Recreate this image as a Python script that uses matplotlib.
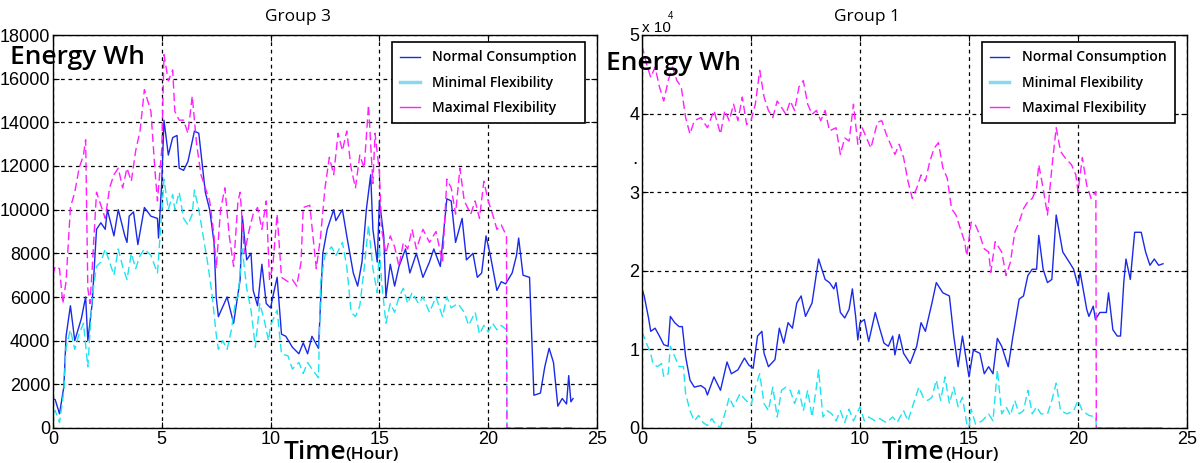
import matplotlib.pyplot as plt
from matplotlib.lines import Line2D

# (hour, Wh) pairs
g3_normal = [
    (0, 1340), (0.1, 1300), (0.3, 650), (0.5, 1900), (0.6, 4200), (0.8, 5600), (1.0, 4000),
    (1.3, 5000), (1.5, 6000), (1.6, 4000), (1.8, 5700), (2.0, 9100), (2.2, 9400), (2.4, 9100),
    (2.5, 10000), (2.8, 8800), (3.0, 10000), (3.3, 8800), (3.4, 8500), (3.5, 9700), (3.7, 9900),
    (3.9, 8400), (4.2, 10100), (4.5, 9700), (4.8, 9600), (4.85, 8700), (5.0, 11300), (5.1, 14100),
    (5.3, 12500), (5.5, 13300), (5.7, 13400), (5.8, 11900), (6.0, 11800), (6.2, 12200),
    (6.5, 13600), (6.7, 13500), (7.0, 10800), (7.2, 10000), (7.4, 8500), (7.5, 6000), (7.6, 5100),
    (8.0, 6000), (8.3, 4800), (8.6, 6800), (8.7, 9700), (8.9, 7700), (9.1, 8000), (9.2, 6300),
    (9.4, 5600), (9.6, 7500), (9.8, 5700), (10.0, 5500), (10.1, 6000), (10.3, 6900), (10.5, 4300),
    (10.7, 4200), (11.0, 3700), (11.3, 3400), (11.5, 3900), (11.7, 3400), (11.9, 4200),
    (12.2, 3650), (12.4, 8000), (12.6, 9100), (12.9, 10000), (13.0, 9500), (13.3, 10000),
    (13.5, 8800), (13.8, 7100), (14.0, 6500), (14.2, 7600), (14.4, 10000), (14.6, 11600),
    (14.7, 9100), (14.9, 7600), (15.0, 10400), (15.2, 8800), (15.3, 6000), (15.5, 7500),
    (15.7, 6500), (15.9, 7400), (16.2, 8200), (16.4, 7100), (16.7, 8000), (17.0, 6900),
    (17.3, 7600), (17.5, 8200), (17.8, 7400), (18.1, 10500), (18.3, 10400), (18.5, 8500),
    (18.8, 9600), (19.0, 7700), (19.3, 8000), (19.5, 6900), (19.7, 7100), (19.9, 8800),
    (20.1, 7900), (20.4, 6300), (20.6, 6700), (20.8, 6600), (21.1, 7100), (21.3, 7900),
    (21.4, 8700), (21.6, 7000), (21.9, 6900), (22.1, 1500), (22.4, 1600), (22.6, 2800),
    (22.8, 3650), (23.0, 3000), (23.2, 1000), (23.4, 1350), (23.6, 1100), (23.7, 2400),
    (23.8, 1200), (23.9, 1350),
]

g3_minimal = [
    (0, 700), (0.1, 800), (0.3, 250), (0.5, 1700), (0.6, 3700), (0.8, 4500), (1.0, 3600),
    (1.2, 4300), (1.4, 4800), (1.6, 2800), (1.8, 6000), (2.0, 7400), (2.2, 7600), (2.4, 8200),
    (2.6, 7600), (2.8, 7000), (3.0, 8200), (3.2, 7400), (3.4, 6800), (3.6, 8000), (3.8, 7300),
    (4.0, 7900), (4.2, 8200), (4.5, 7900), (4.8, 7100), (4.9, 8500), (5.1, 11400), (5.3, 10000),
    (5.5, 10700), (5.6, 10000), (5.8, 10800), (6.0, 9600), (6.2, 9300), (6.4, 9800),
    (6.5, 10900), (6.7, 10000), (6.9, 8800), (7.1, 7600), (7.3, 6200), (7.5, 4300), (7.6, 3600),
    (7.8, 4000), (8.0, 3600), (8.2, 4500), (8.4, 5900), (8.5, 6000), (8.7, 8200), (8.9, 6400),
    (9.1, 5400), (9.3, 3700), (9.5, 5700), (9.7, 5000), (9.9, 4000), (10.0, 4700), (10.3, 5400),
    (10.5, 3400), (10.8, 3300), (11.0, 2700), (11.3, 3000), (11.5, 2500), (11.7, 3000),
    (11.9, 2700), (12.2, 2300), (12.3, 6700), (12.5, 7900), (12.8, 8300), (13.0, 7900),
    (13.3, 8500), (13.5, 7400), (13.7, 5300), (13.9, 5100), (14.1, 5600), (14.3, 7300),
    (14.5, 9300), (14.7, 7300), (14.9, 6200), (15.0, 8300), (15.1, 6700), (15.3, 4800),
    (15.5, 5700), (15.7, 5300), (15.9, 6000), (16.1, 6400), (16.3, 5700), (16.5, 6200),
    (16.8, 5700), (17.0, 6000), (17.3, 5300), (17.6, 6000), (17.9, 5100), (18.1, 6000),
    (18.3, 5500), (18.6, 5700), (18.9, 5300), (19.1, 4700), (19.4, 5300), (19.6, 4300),
    (19.8, 4700), (20.0, 4400), (20.2, 4800), (20.4, 4500), (20.6, 4700), (20.84, 4500),
    (20.86, 0), (23.85, 0),
]

g3_maximal = [
    (0, 7000), (0.1, 7400), (0.3, 7300), (0.45, 5700), (0.6, 6700), (0.8, 10100), (1.0, 10800),
    (1.2, 11900), (1.4, 12500), (1.5, 13200), (1.6, 6400), (1.7, 5700), (1.8, 7300), (2.0, 10800),
    (2.2, 10200), (2.4, 9600), (2.6, 11000), (2.8, 11600), (3.0, 11900), (3.2, 11000),
    (3.4, 11900), (3.6, 11300), (3.8, 12700), (4.0, 13600), (4.2, 15500), (4.5, 14500),
    (4.7, 11600), (4.8, 10400), (5.0, 12800), (5.1, 17100), (5.3, 15900), (5.5, 16400),
    (5.6, 14500), (5.8, 14100), (6.0, 14100), (6.2, 13500), (6.4, 15200), (6.6, 13000),
    (6.8, 11600), (7.0, 11000), (7.2, 10400), (7.4, 8800), (7.5, 7300), (7.7, 10000),
    (7.9, 11000), (8.1, 8800), (8.3, 7400), (8.5, 10400), (8.6, 10800), (8.8, 8000), (9.0, 9000),
    (9.2, 9800), (9.4, 10100), (9.6, 9100), (9.8, 10400), (9.95, 6800), (10.1, 7400),
    (10.3, 9800), (10.5, 6900), (10.8, 6700), (11.0, 6800), (11.2, 6500), (11.4, 7600),
    (11.5, 10100), (11.8, 10200), (12.1, 7300), (12.3, 8800), (12.5, 11000), (12.7, 12400),
    (12.9, 11600), (13.1, 13500), (13.3, 12700), (13.5, 13600), (13.7, 11900), (13.9, 11000),
    (14.1, 12500), (14.3, 11900), (14.5, 14800), (14.7, 11200), (14.8, 13500), (15.0, 11700),
    (15.1, 9100), (15.3, 8000), (15.5, 8800), (15.7, 8300), (15.9, 7400), (16.1, 8500),
    (16.3, 8200), (16.5, 9100), (16.7, 8200), (17.0, 9100), (17.3, 8500), (17.6, 9000),
    (17.9, 7600), (18.1, 11400), (18.3, 11000), (18.5, 9800), (18.7, 11900), (18.9, 10400),
    (19.2, 9800), (19.4, 10400), (19.6, 9600), (19.8, 11300), (20.0, 10400), (20.2, 9800),
    (20.4, 9100), (20.6, 9300), (20.84, 8800), (20.86, 0), (23.85, 0),
]

g1_normal = [
    (0, 17700), (0.1, 16800), (0.3, 14000), (0.4, 12300), (0.6, 12700), (0.8, 11700),
    (1.0, 10600), (1.2, 10400), (1.3, 14200), (1.5, 13400), (1.7, 12900), (1.85, 12900),
    (2.0, 9100), (2.2, 6100), (2.4, 5200), (2.7, 5400), (2.9, 5000), (3.0, 4200), (3.3, 6500),
    (3.6, 4800), (3.9, 8400), (4.1, 6900), (4.4, 7400), (4.7, 8900), (4.9, 8000), (5.1, 7600),
    (5.3, 11700), (5.5, 12300), (5.6, 9500), (5.8, 7800), (6.1, 8700), (6.3, 12700),
    (6.5, 10800), (6.7, 13400), (6.9, 12700), (7.1, 15900), (7.3, 16800), (7.5, 14200),
    (7.8, 15900), (8.1, 21500), (8.4, 18900), (8.6, 18500), (8.8, 17700), (8.9, 18500),
    (9.1, 14700), (9.3, 14000), (9.5, 15100), (9.65, 17700), (9.8, 14200), (9.9, 11200),
    (10.0, 13400), (10.2, 13800), (10.4, 11000), (10.7, 14700), (10.9, 12700), (11.1, 10800),
    (11.3, 10400), (11.5, 11700), (11.6, 9300), (11.8, 11900), (12.0, 9500), (12.3, 8200),
    (12.6, 10400), (12.8, 13400), (13.0, 12300), (13.3, 15900), (13.5, 18500), (13.8, 17200),
    (14.1, 16800), (14.3, 11700), (14.5, 7800), (14.7, 11700), (15.0, 6500), (15.2, 9900),
    (15.5, 9500), (15.7, 6900), (15.9, 7800), (16.1, 6900), (16.3, 11400), (16.5, 10400),
    (16.8, 7800), (17.0, 11400), (17.3, 16400), (17.5, 16800), (17.7, 19400), (17.9, 20200),
    (18.1, 20200), (18.2, 24500), (18.4, 20200), (18.6, 18500), (18.8, 18900), (19.0, 27100),
    (19.3, 22400), (19.6, 21100), (19.8, 20200), (20.0, 18100), (20.1, 19800), (20.4, 15100),
    (20.5, 14200), (20.7, 15500), (20.8, 13800), (21.0, 14700), (21.3, 14700), (21.4, 17200),
    (21.6, 12500), (21.8, 11700), (21.95, 11700), (22.1, 18500), (22.2, 21500), (22.4, 18900),
    (22.5, 21900), (22.6, 24900), (22.9, 24900), (23.1, 22400), (23.3, 20700), (23.5, 21500),
    (23.7, 20700), (23.9, 20900),
]

g1_minimal = [
    (0, 12300), (0.2, 10800), (0.4, 9500), (0.5, 8200), (0.7, 7800), (0.9, 8200), (1.0, 6500),
    (1.2, 6900), (1.3, 10400), (1.5, 9100), (1.7, 7800), (1.9, 7800), (2.0, 4400), (2.2, 2200),
    (2.4, 900), (2.6, 1600), (2.8, 700), (3.0, 300), (3.2, 1200), (3.4, 400), (3.6, 100),
    (3.8, 1800), (4.0, 3900), (4.2, 2700), (4.5, 4400), (4.7, 3700), (5.0, 2900), (5.2, 5200),
    (5.4, 6900), (5.6, 3100), (5.8, 2200), (6.0, 5200), (6.2, 1400), (6.4, 4800), (6.6, 5200),
    (6.8, 4800), (7.0, 3100), (7.2, 4800), (7.4, 2200), (7.6, 4800), (7.8, 1400), (8.0, 5200),
    (8.1, 7400), (8.3, 1400), (8.5, 2200), (8.7, 1800), (8.9, 900), (9.1, 2200), (9.3, 700),
    (9.5, 2400), (9.7, 900), (10.0, 2700), (10.2, 900), (10.4, 1400), (10.7, 900), (10.9, 1200),
    (11.2, 700), (11.5, 1400), (11.7, 700), (12.0, 2200), (12.2, 900), (12.5, 3500), (12.7, 5200),
    (12.9, 3900), (13.1, 3500), (13.3, 3900), (13.5, 6100), (13.7, 3500), (13.9, 6500),
    (14.1, 3100), (14.3, 5200), (14.5, 2700), (14.7, 3900), (14.9, 500), (15.0, 100),
    (15.1, 2400), (15.3, 500), (15.6, 900), (15.9, 1800), (16.1, 900), (16.3, 7400),
    (16.5, 1800), (16.7, 2700), (16.9, 1600), (17.1, 3500), (17.3, 1800), (17.5, 2200),
    (17.7, 4800), (17.9, 1800), (18.1, 2700), (18.3, 1800), (18.6, 1800), (18.8, 3500),
    (19.0, 5700), (19.2, 2200), (19.5, 1800), (19.8, 2200), (20.0, 3500), (20.2, 2200),
    (20.5, 1600), (20.82, 1400), (20.84, 0), (23.85, 0),
]

g1_maximal = [
    (0, 48700), (0.2, 46400), (0.4, 44600), (0.6, 45900), (0.8, 43400), (1.0, 41600),
    (1.2, 44200), (1.4, 45900), (1.6, 44200), (1.8, 43400), (2.0, 39500), (2.2, 37400),
    (2.4, 39100), (2.7, 39500), (3.0, 38200), (3.3, 40400), (3.6, 37400), (3.8, 40400),
    (4.0, 39100), (4.2, 41200), (4.4, 39100), (4.6, 42100), (4.8, 38600), (5.0, 39100),
    (5.2, 41200), (5.4, 45500), (5.6, 42100), (5.8, 40400), (6.0, 39500), (6.2, 41600),
    (6.4, 40800), (6.6, 39900), (6.8, 41600), (7.0, 40400), (7.2, 43400), (7.4, 44200),
    (7.6, 41200), (7.8, 39900), (8.0, 40400), (8.2, 39100), (8.4, 40400), (8.6, 37800),
    (8.9, 38200), (9.1, 34800), (9.3, 36900), (9.5, 36500), (9.7, 41200), (9.9, 36100),
    (10.1, 38200), (10.3, 36900), (10.5, 35600), (10.8, 38900), (11.0, 39100), (11.2, 37400),
    (11.4, 36100), (11.6, 34800), (11.8, 36100), (12.0, 34400), (12.2, 31400), (12.4, 29200),
    (12.6, 30500), (12.8, 32200), (13.0, 31400), (13.2, 33900), (13.4, 35600), (13.6, 36300),
    (13.8, 33100), (14.0, 31800), (14.2, 27900), (14.4, 27100), (14.6, 25400), (14.8, 23700),
    (14.9, 21900), (15.1, 26200), (15.3, 25800), (15.5, 24500), (15.7, 22800), (15.9, 22400),
    (16.0, 19800), (16.2, 23700), (16.5, 22400), (16.7, 19400), (16.9, 21100), (17.1, 24900),
    (17.3, 26200), (17.5, 27900), (17.7, 28800), (17.9, 29200), (18.1, 30500), (18.2, 33500),
    (18.4, 30500), (18.6, 27100), (18.8, 33100), (19.0, 38200), (19.2, 35200), (19.4, 34400),
    (19.7, 33500), (19.9, 32200), (20.0, 30100), (20.2, 34400), (20.4, 30900), (20.6, 29200),
    (20.82, 30100), (20.84, 0), (23.85, 0),
]

groups = ["Group 3", "Group 1"]
legend_labels = ["Normal Consumption", "Minimal Flexibility", "Maximal Flexibility"]
g3_yticks = list(range(0, 18001, 2000))
g1_yticks = [0, 10000, 20000, 30000, 40000, 50000]
g1_yticklabels = ["0", "1", "2", "3", "4", "5"]
x_ticks = [0, 5, 10, 15, 20, 25]

BLUE = "#1a2ae8"
CYAN = "#1fe4ef"
MAGENTA = "#ff1fff"
TICK_FONT = ["Liberation Sans Narrow", "Liberation Sans"]
TEXT_FONT = ["Open Sans", "DejaVu Sans"]


def draw_panel(ax, normal, minimal, maximal, ymax, yticks, yticklabels):
    for pts, color, ls in (
        (normal, BLUE, "-"),
        (minimal, CYAN, (0, (6, 3))),
        (maximal, MAGENTA, (0, (6, 3))),
    ):
        t, e = zip(*pts)
        ax.plot(t, e, color=color, lw=1.0, linestyle=ls)

    ax.set_xlim(0, 25)
    ax.set_ylim(0, ymax)
    ax.set_xticks(x_ticks)
    ax.set_xticklabels([str(v) for v in x_ticks], family=TICK_FONT, fontsize=13)
    ax.set_yticks(yticks)
    ax.set_yticklabels(yticklabels, family=TICK_FONT, fontsize=13)
    ax.tick_params(direction="in", length=4, width=0.8, top=True, right=True, pad=2)
    ax.grid(True, color="black", linestyle=(0, (3, 3)), linewidth=0.9)
    ax.set_axisbelow(True)
    for sp in ax.spines.values():
        sp.set_linewidth(1.0)

    handles = [
        Line2D([], [], color=BLUE, lw=1.0),
        Line2D([], [], color="#86d9f0", lw=2.5),
        Line2D([], [], color=MAGENTA, lw=1.0),
    ]
    leg = ax.legend(
        handles,
        legend_labels,
        loc="upper left",
        bbox_to_anchor=(0.623, 0.982),
        borderaxespad=0,
        fancybox=False,
        framealpha=1,
        edgecolor="black",
        prop={"family": TEXT_FONT, "weight": "semibold", "size": 10},
        handlelength=1.4,
        handletextpad=0.9,
        labelspacing=0.8,
        borderpad=0.6,
    )
    leg.get_frame().set_linewidth(1.2)


fig = plt.figure(figsize=(12, 4.63), dpi=100)
ax_left = fig.add_axes([53 / 1200, 35 / 463, 544 / 1200, 393 / 463])
ax_right = fig.add_axes([642 / 1200, 35 / 463, 545 / 1200, 393 / 463])

draw_panel(ax_left, g3_normal, g3_minimal, g3_maximal, 18000, g3_yticks,
           [str(v) for v in g3_yticks])
draw_panel(ax_right, g1_normal, g1_minimal, g1_maximal, 50000, g1_yticks, g1_yticklabels)

# titles and the big axis captions
fig.text(298 / 1200, 1 - 21 / 463, groups[0], ha="center", va="baseline",
         family=TEXT_FONT, fontsize=12.5)
fig.text(867 / 1200, 1 - 21 / 463, groups[1], ha="center", va="baseline",
         family=TEXT_FONT, fontsize=12.5)

for x0, y0 in ((10, 64), (606, 70)):
    fig.text(x0 / 1200, 1 - y0 / 463, "Energy Wh", va="baseline",
             family=TEXT_FONT, fontsize=19, weight="semibold")

for x0, x1 in ((284, 345), (882, 945)):
    fig.text(x0 / 1200, 4 / 463, "Time", va="baseline", family=TEXT_FONT,
             fontsize=19, weight="semibold")
    fig.text(x1 / 1200, 4 / 463, "(Hour)", va="baseline", family=TEXT_FONT,
             fontsize=12.5, weight="semibold")

fig.text(642 / 1200, 1 - 32 / 463, "x 10", va="baseline", family=TICK_FONT, fontsize=11)
fig.text(668 / 1200, 1 - 19 / 463, "4", va="baseline", family=TICK_FONT, fontsize=7)
fig.text(632 / 1200, 1 - 164 / 463, ".", va="baseline", family=TICK_FONT, fontsize=14)

fig.savefig("out.png", dpi=100)
